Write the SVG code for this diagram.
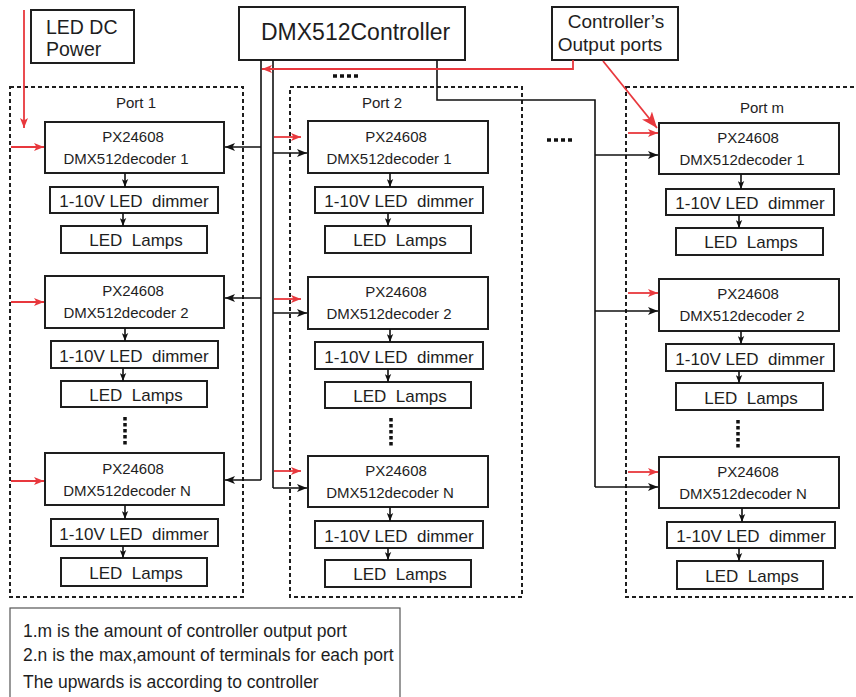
<svg xmlns="http://www.w3.org/2000/svg" width="856" height="697" viewBox="0 0 856 697">
<defs>
<style>
text{font-family:"Liberation Sans",Arial,sans-serif;fill:#1e1e1e;white-space:pre}
.box{fill:#fff;stroke:#1e1e1e;stroke-width:2}
.port{fill:none;stroke:#1e1e1e;stroke-width:2;stroke-dasharray:4 3}
.blk{fill:none;stroke:#111;stroke-width:1.6}
.red{fill:none;stroke:#e8383d;stroke-width:1.8}
.dots{stroke:#111;stroke-width:3.5;stroke-dasharray:3.5 2.5}
.dec{font-size:15px;text-anchor:middle}
.dim{font-size:17px;text-anchor:middle}
.pl{font-size:15px;text-anchor:middle}
.note{font-size:17.5px}
</style>
<marker id="ab" viewBox="0 0 10 8" refX="10" refY="4" markerWidth="10" markerHeight="8" markerUnits="userSpaceOnUse" orient="auto"><path d="M0,0 L10,4 L0,8 L2.5,4 z" fill="#111"/></marker>
<marker id="as" viewBox="0 0 10 8" refX="10" refY="4" markerWidth="8" markerHeight="7" markerUnits="userSpaceOnUse" orient="auto"><path d="M0,0 L10,4 L0,8 L2.5,4 z" fill="#111"/></marker>
<marker id="ar" viewBox="0 0 10 8" refX="10" refY="4" markerWidth="10" markerHeight="8" markerUnits="userSpaceOnUse" orient="auto"><path d="M0,0 L10,4 L0,8 L2.5,4 z" fill="#e8383d"/></marker>
<marker id="arL" viewBox="0 0 10 8" refX="10" refY="4" markerWidth="16" markerHeight="13" markerUnits="userSpaceOnUse" orient="auto"><path d="M0,0 L10,4 L0,8 L2.5,4 z" fill="#e8383d"/></marker>
</defs>
<rect width="856" height="697" fill="#fff"/>

<!-- port frames -->
<g id="port1">
<rect class="port" x="10" y="87" width="233" height="510"/>
<text class="pl" x="136" y="108">Port 1</text>
</g>
<g id="port2">
<rect class="port" x="290" y="87" width="232" height="510"/>
<text class="pl" x="382" y="108">Port 2</text>
</g>
<g id="portm">
<rect class="port" x="626" y="87" width="240" height="510"/>
<text class="pl" x="762" y="113">Port m</text>
</g>

<!-- top nodes -->
<g id="ledpower">
<rect class="box" x="31" y="10" width="103" height="53"/>
<text x="46" y="34" font-size="19.5">LED DC</text>
<text x="46" y="56" font-size="19.5">Power</text>
</g>
<g id="controller">
<rect class="box" x="239" y="7" width="226" height="53"/>
<text x="261" y="40" font-size="23">DMX512Controller</text>
</g>
<g id="outports">
<rect class="box" x="552" y="7" width="126" height="53"/>
<text x="616" y="28" font-size="19" text-anchor="middle">Controller’s</text>
<text x="610" y="51" font-size="19" text-anchor="middle">Output ports</text>
</g>

<!-- Port 1 nodes -->
<g id="p1-dec1"><rect class="box" x="45" y="122" width="179" height="51"/><text class="dec" x="133" y="142">PX24608</text><text class="dec" x="126" y="164">DMX512decoder 1</text></g>
<g id="p1-dim1"><rect class="box" x="50" y="187" width="168" height="26"/><text class="dim" x="134" y="207">1-10V LED  dimmer</text></g>
<g id="p1-lamp1"><rect class="box" x="61" y="226" width="146" height="27"/><text class="dim" x="136" y="246">LED  Lamps</text></g>
<g id="p1-dec2"><rect class="box" x="45" y="276" width="179" height="52"/><text class="dec" x="133" y="296">PX24608</text><text class="dec" x="126" y="318">DMX512decoder 2</text></g>
<g id="p1-dim2"><rect class="box" x="51" y="341" width="167" height="27"/><text class="dim" x="134" y="362">1-10V LED  dimmer</text></g>
<g id="p1-lamp2"><rect class="box" x="61" y="381" width="146" height="26"/><text class="dim" x="136" y="401">LED  Lamps</text></g>
<g id="p1-decN"><rect class="box" x="45" y="453" width="179" height="52"/><text class="dec" x="133" y="474">PX24608</text><text class="dec" x="127" y="496">DMX512decoder N</text></g>
<g id="p1-dimN"><rect class="box" x="51" y="519" width="167" height="27"/><text class="dim" x="134" y="540">1-10V LED  dimmer</text></g>
<g id="p1-lampN"><rect class="box" x="61" y="558" width="146" height="28"/><text class="dim" x="136" y="579">LED  Lamps</text></g>

<!-- Port 2 nodes -->
<g id="p2-dec1"><rect class="box" x="308" y="121" width="180" height="52"/><text class="dec" x="396" y="142">PX24608</text><text class="dec" x="389" y="164">DMX512decoder 1</text></g>
<g id="p2-dim1"><rect class="box" x="315" y="187" width="168" height="26"/><text class="dim" x="399" y="207">1-10V LED  dimmer</text></g>
<g id="p2-lamp1"><rect class="box" x="325" y="226" width="146" height="27"/><text class="dim" x="400" y="246">LED  Lamps</text></g>
<g id="p2-dec2"><rect class="box" x="308" y="277" width="180" height="52"/><text class="dec" x="396" y="297">PX24608</text><text class="dec" x="389" y="319">DMX512decoder 2</text></g>
<g id="p2-dim2"><rect class="box" x="315" y="342" width="168" height="27"/><text class="dim" x="399" y="363">1-10V LED  dimmer</text></g>
<g id="p2-lamp2"><rect class="box" x="325" y="382" width="146" height="26"/><text class="dim" x="400" y="402">LED  Lamps</text></g>
<g id="p2-decN"><rect class="box" x="308" y="456" width="180" height="51"/><text class="dec" x="396" y="476">PX24608</text><text class="dec" x="390" y="498">DMX512decoder N</text></g>
<g id="p2-dimN"><rect class="box" x="315" y="521" width="168" height="27"/><text class="dim" x="399" y="542">1-10V LED  dimmer</text></g>
<g id="p2-lampN"><rect class="box" x="325" y="560" width="146" height="27"/><text class="dim" x="400" y="580">LED  Lamps</text></g>

<!-- Port m nodes -->
<g id="pm-dec1"><rect class="box" x="659" y="123" width="180" height="51"/><text class="dec" x="748" y="143">PX24608</text><text class="dec" x="742" y="165">DMX512decoder 1</text></g>
<g id="pm-dim1"><rect class="box" x="666" y="189" width="168" height="26"/><text class="dim" x="750" y="209">1-10V LED  dimmer</text></g>
<g id="pm-lamp1"><rect class="box" x="676" y="228" width="147" height="27"/><text class="dim" x="751" y="248">LED  Lamps</text></g>
<g id="pm-dec2"><rect class="box" x="659" y="279" width="180" height="52"/><text class="dec" x="748" y="299">PX24608</text><text class="dec" x="742" y="321">DMX512decoder 2</text></g>
<g id="pm-dim2"><rect class="box" x="666" y="344" width="168" height="27"/><text class="dim" x="750" y="365">1-10V LED  dimmer</text></g>
<g id="pm-lamp2"><rect class="box" x="676" y="383" width="147" height="27"/><text class="dim" x="751" y="404">LED  Lamps</text></g>
<g id="pm-decN"><rect class="box" x="659" y="457" width="180" height="51"/><text class="dec" x="748" y="477">PX24608</text><text class="dec" x="743" y="499">DMX512decoder N</text></g>
<g id="pm-dimN"><rect class="box" x="667" y="522" width="168" height="26"/><text class="dim" x="751" y="542">1-10V LED  dimmer</text></g>
<g id="pm-lampN"><rect class="box" x="677" y="561" width="146" height="28"/><text class="dim" x="752" y="582">LED  Lamps</text></g>

<!-- ellipsis dots -->
<g id="ellipses">
<line class="dots" x1="125" y1="417" x2="125" y2="446"/>
<line class="dots" x1="391" y1="418" x2="391" y2="447"/>
<line class="dots" x1="738" y1="420" x2="738" y2="449"/>
<line class="dots" x1="333" y1="76" x2="360" y2="76" style="stroke-dasharray:4 3"/>
<line class="dots" x1="547" y1="140" x2="574" y2="140" style="stroke-dasharray:4 3"/>
</g>

<!-- connectors -->
<g id="connectors">
<!-- bus lines -->
<polyline class="blk" points="261,60 261,480"/>
<polyline class="blk" points="273,60 273,488"/>
<polyline class="blk" points="437,60 437,100 595,100 595,487"/>
<!-- port1 bus arrows -->
<line class="blk" x1="261" y1="147" x2="225" y2="147" marker-end="url(#ab)"/>
<line class="blk" x1="261" y1="298" x2="225" y2="298" marker-end="url(#ab)"/>
<line class="blk" x1="261" y1="480" x2="225" y2="480" marker-end="url(#ab)"/>
<!-- port2 bus arrows -->
<line class="blk" x1="273" y1="153" x2="307" y2="153" marker-end="url(#ab)"/>
<line class="blk" x1="273" y1="313" x2="307" y2="313" marker-end="url(#ab)"/>
<line class="blk" x1="273" y1="488" x2="307" y2="488" marker-end="url(#ab)"/>
<!-- port m bus arrows -->
<line class="blk" x1="595" y1="155" x2="658" y2="155" marker-end="url(#ab)"/>
<line class="blk" x1="595" y1="311" x2="658" y2="311" marker-end="url(#ab)"/>
<line class="blk" x1="595" y1="487" x2="658" y2="487" marker-end="url(#ab)"/>
<!-- red power arrows -->
<line class="red" x1="24" y1="10" x2="24" y2="128" marker-end="url(#ar)"/>
<line class="red" x1="11" y1="147" x2="44" y2="147" marker-end="url(#ar)"/>
<line class="red" x1="11" y1="302" x2="44" y2="302" marker-end="url(#ar)"/>
<line class="red" x1="11" y1="481" x2="44" y2="481" marker-end="url(#ar)"/>
<line class="red" x1="274" y1="137" x2="301" y2="137" marker-end="url(#ar)"/>
<line class="red" x1="274" y1="299" x2="301" y2="299" marker-end="url(#ar)"/>
<line class="red" x1="274" y1="471" x2="301" y2="471" marker-end="url(#ar)"/>
<line class="red" x1="628" y1="133" x2="658" y2="133" marker-end="url(#ar)"/>
<line class="red" x1="628" y1="293" x2="658" y2="293" marker-end="url(#ar)"/>
<line class="red" x1="628" y1="472" x2="658" y2="472" marker-end="url(#ar)"/>
<!-- output ports pointers -->
<polyline class="red" points="573,60 573,69 262,69" marker-end="url(#ar)"/>
<line class="red" x1="603" y1="61" x2="657" y2="128" marker-end="url(#arL)"/>
<!-- decoder to dimmer to lamps -->
<line class="blk" x1="125" y1="173" x2="125" y2="187" marker-end="url(#as)"/>
<line class="blk" x1="123" y1="213" x2="123" y2="226" marker-end="url(#as)"/>
<line class="blk" x1="125" y1="328" x2="125" y2="341" marker-end="url(#as)"/>
<line class="blk" x1="123" y1="368" x2="123" y2="381" marker-end="url(#as)"/>
<line class="blk" x1="125" y1="505" x2="125" y2="519" marker-end="url(#as)"/>
<line class="blk" x1="123" y1="546" x2="123" y2="558" marker-end="url(#as)"/>
<line class="blk" x1="390" y1="173" x2="390" y2="187" marker-end="url(#as)"/>
<line class="blk" x1="388" y1="213" x2="388" y2="226" marker-end="url(#as)"/>
<line class="blk" x1="390" y1="329" x2="390" y2="342" marker-end="url(#as)"/>
<line class="blk" x1="388" y1="369" x2="388" y2="382" marker-end="url(#as)"/>
<line class="blk" x1="390" y1="507" x2="390" y2="521" marker-end="url(#as)"/>
<line class="blk" x1="388" y1="548" x2="388" y2="560" marker-end="url(#as)"/>
<line class="blk" x1="741" y1="174" x2="741" y2="189" marker-end="url(#as)"/>
<line class="blk" x1="739" y1="215" x2="739" y2="228" marker-end="url(#as)"/>
<line class="blk" x1="741" y1="331" x2="741" y2="344" marker-end="url(#as)"/>
<line class="blk" x1="739" y1="371" x2="739" y2="383" marker-end="url(#as)"/>
<line class="blk" x1="742" y1="508" x2="742" y2="522" marker-end="url(#as)"/>
<line class="blk" x1="739" y1="548" x2="739" y2="561" marker-end="url(#as)"/>
</g>

<!-- note -->
<g id="note">
<rect x="10" y="608" width="390" height="100" fill="#fff" stroke="#555" stroke-width="1.2"/>
<text class="note" x="23" y="637">1.m is the amount of controller output port</text>
<text class="note" x="23" y="661">2.n is the max,amount of terminals for each port</text>
<text class="note" x="23" y="688">The upwards is according to controller</text>
</g>
</svg>
